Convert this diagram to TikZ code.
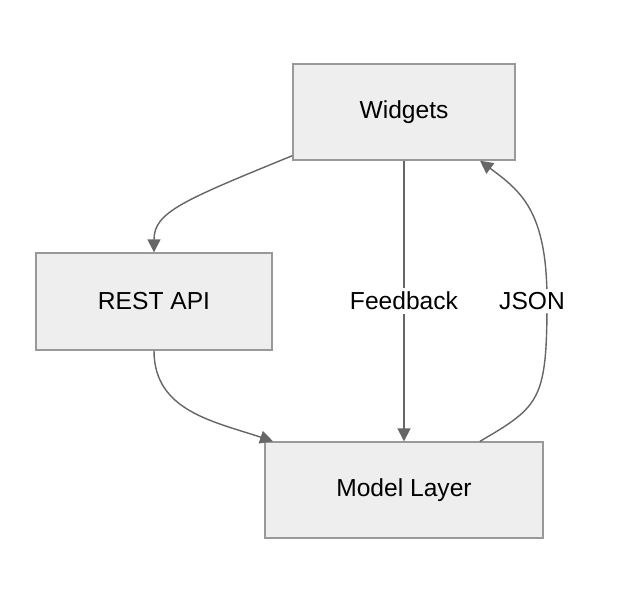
\documentclass[tikz,border=0pt]{standalone}
\usepackage{fontspec}
\setmainfont{Liberation Sans}
\usetikzlibrary{positioning}
\usetikzlibrary{arrows.meta}
\definecolor{boxfill}{HTML}{EEEEEE}
\definecolor{boxline}{HTML}{999999}
\definecolor{edgeline}{HTML}{666666}
\tikzset{>={Triangle[width=2.6mm,length=2.6mm]}}

\begin{document}
\begin{tikzpicture}[x=0.02cm, y=-0.02cm, block/.style={rectangle, draw=boxline, fill=boxfill, thick, inner sep=0pt, font=\fontsize{14}{16}\selectfont}, edge/.style={->, draw=edgeline, thick}, edgelabel/.style={fill=white, inner sep=2pt, font=\fontsize{14}{16}\selectfont}]
    \useasboundingbox (0,0) rectangle (638,604);

    %Nodes
    \node[block, minimum width=4.44cm, minimum height=1.92cm](widgets) at (404,112){Widgets};
    \node[block, minimum width=4.72cm, minimum height=1.94cm](rest) at (154,301.5){REST API};
    \node[block, minimum width=5.56cm, minimum height=1.92cm](model) at (404,490){Model Layer};

    %Lines
    \draw[edge] ([yshift=0.1cm]widgets.south west) .. controls +(-110,45) and +(0,-40) .. (rest.north);
    \draw[edge] (rest.south) .. controls +(0,60) and +(-60,-20) .. ([xshift=-2.62cm]model.north);
    \draw[edge] (widgets.south) -- node[edgelabel]{Feedback} (model.north);
    \draw[edge] ([xshift=1.52cm]model.north) .. controls +(60,-35) and +(0,100) .. (547,300) .. controls +(0,-90) and +(40,30) .. ([xshift=1.52cm]widgets.south);
    \node[edgelabel](json) at (532,301){JSON};
\end{tikzpicture}
\end{document}
